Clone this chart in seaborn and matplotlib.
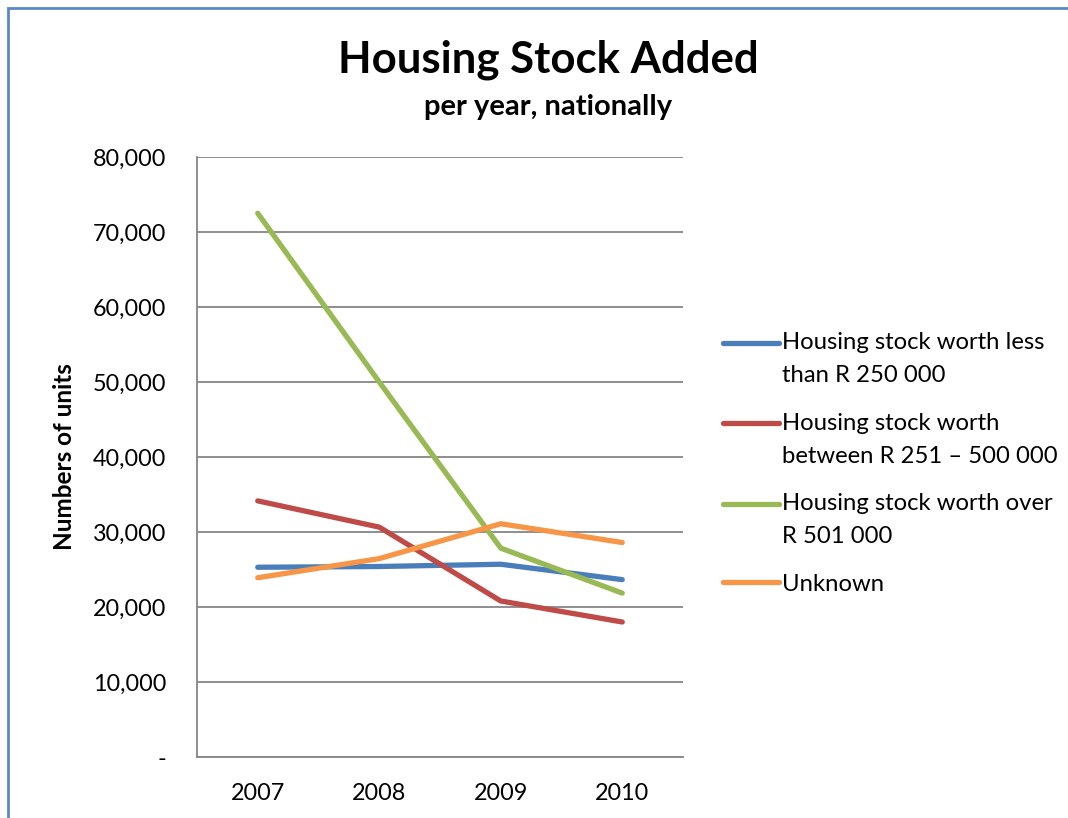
import matplotlib
matplotlib.use("Agg")
import matplotlib.pyplot as plt
import seaborn as sns
import pandas as pd
from matplotlib.patches import Rectangle
from matplotlib.ticker import FuncFormatter
from matplotlib.legend_handler import HandlerLine2D

years = ["2007", "2008", "2009", "2010"]
series_names = [
    "Housing stock worth less\nthan R 250 000",
    "Housing stock worth\nbetween R 251 \u2013 500 000",
    "Housing stock worth over\nR 501 000",
    "Unknown",
]
less_250 = [25300, 25400, 25700, 23650]
between_251_500 = [34150, 30650, 20800, 18000]
over_501 = [72500, 50000, 27850, 21850]
unknown = [23900, 26450, 31100, 28600]
colors = ["#4A7EBB", "#BE4B48", "#98B954", "#F79646"]

values = [less_250, between_251_500, over_501, unknown]
df = pd.DataFrame(
    [(y, name, v) for name, vals in zip(series_names, values) for y, v in zip(years, vals)],
    columns=["Year", "Series", "Units"],
)

sns.set_theme(style="white")
plt.rcParams["font.family"] = ["Lato", "DejaVu Sans"]
for k in ["text.color", "axes.labelcolor", "xtick.color", "ytick.color"]:
    plt.rcParams[k] = "black"

fig = plt.figure(figsize=(10.68, 8.18), dpi=100)
ax = fig.add_axes([197 / 1068, 61 / 818, 486 / 1068, 600 / 818])

sns.lineplot(data=df, x="Year", y="Units", hue="Series", palette=colors,
             linewidth=3.8, ax=ax, sort=False, legend=True)
for ln in ax.get_lines():
    ln.set_solid_capstyle("round")
    ln.set_solid_joinstyle("round")

ax.set_xlim(-0.5, 3.5)
ax.set_ylim(0, 80000)
ax.set_yticks(range(0, 80001, 10000))
ax.yaxis.set_major_formatter(FuncFormatter(lambda v, p: "-" if v == 0 else f"{int(v):,}"))
ax.grid(axis="y", color="#868686", linewidth=1.3)
ax.set_axisbelow(True)
for s in ["top", "right"]:
    ax.spines[s].set_visible(False)
for s in ["left", "bottom"]:
    ax.spines[s].set_color("#868686")
    ax.spines[s].set_linewidth(1.3)
ax.tick_params(axis="y", labelsize=16.8, pad=22, length=0)
ax.tick_params(axis="x", labelsize=16.8, pad=19, length=0)
ax.set_xlabel("")
ax.set_ylabel("Numbers of units", fontsize=17.5, fontweight="bold", labelpad=12.5)


class TopLine(HandlerLine2D):
    def __init__(self, shift, **kw):
        super().__init__(**kw)
        self.shift = shift

    def create_artists(self, legend, orig_handle, xdescent, ydescent, width, height, fontsize, trans):
        arts = super().create_artists(legend, orig_handle, xdescent, ydescent, width, height, fontsize, trans)
        for a in arts:
            a.set_ydata([y + self.shift for y in a.get_ydata()])
        return arts


h, l = ax.get_legend_handles_labels()
ax.get_legend().remove()
hmap = {hh: TopLine(11.9 if "\n" in ll else 0.0) for hh, ll in zip(h, l)}
leg = fig.legend(h, l, loc="upper left", bbox_to_anchor=(723 / 1068, 1 - 332 / 818),
                 frameon=False, fontsize=17.2, handlelength=2.35, handletextpad=0.14,
                 labelspacing=1.1, borderpad=0, borderaxespad=0, handler_map=hmap)
for t in leg.get_texts():
    t.set_linespacing(1.72)
for lh in leg.get_lines():
    lh.set_linewidth(3.8)
    lh.set_solid_capstyle("round")

fig.text(548 / 1068, 1 - 60 / 818, "Housing Stock Added", ha="center", va="center",
         fontsize=31.5, fontweight="bold")
fig.text(548 / 1068, 1 - 107 / 818, "per year, nationally", ha="center", va="center",
         fontsize=21, fontweight="bold")

fig.patches.append(Rectangle((8 / 1068, -0.1), 1.2, 1 - 8 / 818 + 0.1, transform=fig.transFigure,
                             fill=False, edgecolor="#5B87C9", linewidth=2, figure=fig))

fig.savefig("out.png", dpi=100)
